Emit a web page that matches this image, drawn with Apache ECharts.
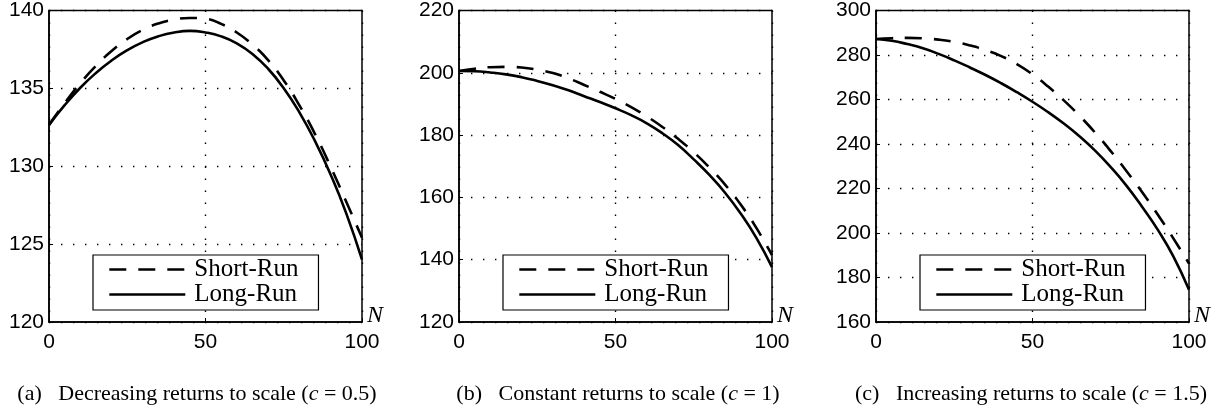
<!DOCTYPE html>
<html>
<head>
<meta charset="utf-8">
<script src="https://cdn.jsdelivr.net/npm/echarts@6/dist/echarts.min.js"></script>
<style>
html,body{margin:0;padding:0;background:#fff;}
#chart{width:1222px;height:413px;}
</style>
</head>
<body>
<div id="chart"></div>
<script>
// ---- data ----
const N = [0,5,10,15,20,25,30,35,40,45,50,55,60,65,70,75,80,85,90,95,100];

// (a) decreasing returns to scale (c = 0.5)
const shortA = [132.65,134.05,135.33,136.45,137.4,138.17,138.76,139.17,139.42,139.52,139.47,139.14,138.59,137.81,136.81,135.51,133.91,132.06,129.96,127.71,125.41];
const longA  = [132.65,133.92,135.04,135.99,136.79,137.45,137.97,138.35,138.59,138.69,138.59,138.34,137.89,137.21,136.26,135.01,133.46,131.61,129.46,126.96,124.0];

// (b) constant returns to scale (c = 1)
const shortB = [200.6,201.3,201.8,201.9,201.7,201.0,199.9,198.2,196.1,193.9,191.6,189.0,186.0,182.6,178.8,174.5,169.6,164.1,157.7,150.2,141.5];
const longB  = [200.6,200.5,200.1,199.5,198.6,197.4,196.0,194.4,192.5,190.6,188.6,186.4,183.8,180.6,176.8,172.2,167.2,161.5,154.8,147.0,137.6];

// (c) increasing returns to scale (c = 1.5)
const shortC = [287.2,287.55,287.7,287.5,286.9,285.85,284.3,282.2,279.5,275.9,271.3,265.8,259.6,252.7,245.1,236.8,227.9,218.4,208.3,197.6,186.3];
const longC  = [287.2,286.4,284.9,283.0,280.5,277.6,274.4,271.0,267.3,263.3,259.0,254.3,249.2,243.5,237.0,229.6,221.3,211.8,201.5,189.5,174.5];

const xTicks = {min: 0, max: 100, interval: 50};
const yA = {min: 120, max: 140, interval: 5};
const yB = {min: 120, max: 220, interval: 20};
const yC = {min: 160, max: 300, interval: 20};

const seriesNames = ['Short-Run', 'Long-Run'];
const captions = [
  '(a)\u2002 Decreasing returns to scale ({i|c} = 0.5)',
  '(b)\u2002 Constant returns to scale ({i|c} = 1)',
  '(c)\u2002 Increasing returns to scale ({i|c} = 1.5)'
];

// ---- layout ----
const gridLefts = [49, 459, 876];
const gridW = 313, gridTop = 9, gridH = 313;
const captionCenters = [197, 618, 1031];
const yRanges = [yA, yB, yC];
const data = [[shortA, longA], [shortB, longB], [shortC, longC]];

const pair = arr => N.map((n, i) => [n, arr[i]]);

const dotted = {color: '#000', width: 1.4, type: [1.4, 10.6]};
const sansFont = 'Liberation Sans';
const serifFont = 'Liberation Serif';

const grids = [], xAxes = [], yAxes = [], series = [], legends = [], titles = [];
for (let k = 0; k < 3; k++) {
  grids.push({left: gridLefts[k], top: gridTop, width: gridW, height: gridH,
    show: true, borderColor: '#000', borderWidth: 1.5, backgroundColor: 'transparent'});
  xAxes.push({type: 'value', gridIndex: k, min: xTicks.min, max: xTicks.max, interval: xTicks.interval,
    name: 'N', nameLocation: 'end', nameGap: 5, nameMoveOverlap: false,
    nameTextStyle: {fontFamily: serifFont, fontStyle: 'italic', fontSize: 24, color: '#000',
      align: 'left', verticalAlign: 'bottom', lineHeight: 12},
    axisLine: {show: true, onZero: false, lineStyle: {color: '#000', width: 1.5}},
    axisTick: {show: true, inside: true, length: 4, lineStyle: {color: '#000'}},
    axisLabel: {color: '#000', fontFamily: sansFont, fontSize: 21, margin: 10},
    splitLine: {show: true, lineStyle: dotted}});
  yAxes.push({type: 'value', gridIndex: k, min: yRanges[k].min, max: yRanges[k].max, interval: yRanges[k].interval,
    axisLine: {show: true, onZero: false, lineStyle: {color: '#000', width: 1.5}},
    axisTick: {show: true, inside: true, length: 4, lineStyle: {color: '#000'}},
    axisLabel: {color: '#000', fontFamily: sansFont, fontSize: 21, margin: 5},
    splitLine: {show: true, lineStyle: dotted}});
  series.push({name: seriesNames[0], type: 'line', xAxisIndex: k, yAxisIndex: k,
    data: pair(data[k][0]), smooth: true, symbol: 'none', silent: true,
    itemStyle: {color: 'rgba(0,0,0,0)'},
    lineStyle: {color: '#000', width: 2.6, type: [17, 12]}, z: 3});
  series.push({name: seriesNames[1], type: 'line', xAxisIndex: k, yAxisIndex: k,
    data: pair(data[k][1]), smooth: true, symbol: 'none', silent: true,
    itemStyle: {color: 'rgba(0,0,0,0)'},
    lineStyle: {color: '#000', width: 2.6, type: 'solid'}, z: 3});
  legends.push({data: seriesNames, orient: 'vertical', left: gridLefts[k] + 44, top: 255,
    backgroundColor: '#fff', borderColor: '#000', borderWidth: 1.2,
    padding: [2, 20, 3, 15], itemGap: 0, itemWidth: 76, itemHeight: 14,
    selectedMode: false,
    itemStyle: {opacity: 0},
    lineStyle: {color: '#000', width: 2.6},
    textStyle: {fontFamily: serifFont, fontSize: 25, color: '#000', lineHeight: 25, padding: [0, 0, 0, 4]}});
  titles.push({text: captions[k], left: captionCenters[k], top: 383, textAlign: 'center', padding: 0,
    textStyle: {fontFamily: serifFont, fontSize: 22, fontWeight: 'normal', color: '#000',
      rich: {i: {fontFamily: serifFont, fontStyle: 'italic', fontSize: 22, color: '#000'}}}});
}

const chart = echarts.init(document.getElementById('chart'), null, {renderer: 'canvas'});
chart.setOption({
  animation: false,
  backgroundColor: '#fff',
  title: titles,
  legend: legends,
  grid: grids,
  xAxis: xAxes,
  yAxis: yAxes,
  series: series
});
</script>
</body>
</html>
